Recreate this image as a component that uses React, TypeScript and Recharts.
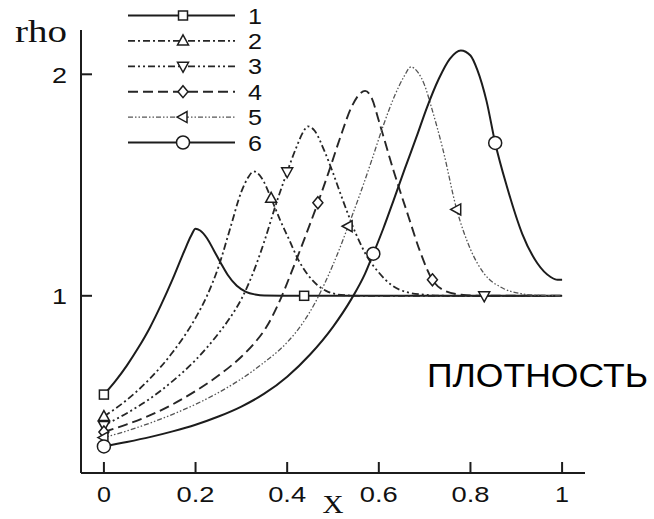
import React from 'react';
import { LineChart, Line, XAxis, YAxis, Legend, Label } from 'recharts';

// ---------- data ----------
const xTicks = [0, 0.2, 0.4, 0.6, 0.8, 1];
const xTickLabels = ['0', '0.2', '0.4', '0.6', '0.8', '1'];
const yTicks = [1, 2];
const yTickLabels = ['1', '2'];
const seriesNames = ['1', '2', '3', '4', '5', '6'];

const curve1: [number, number][] = [
  [0, 0.554], [0.025, 0.615], [0.05, 0.685], [0.075, 0.765], [0.1, 0.855], [0.125, 0.96],
  [0.15, 1.075], [0.175, 1.2], [0.19, 1.27], [0.2, 1.303], [0.21, 1.295], [0.225, 1.26],
  [0.24, 1.205], [0.255, 1.148], [0.27, 1.095], [0.29, 1.045], [0.31, 1.018], [0.33, 1.006],
  [0.35, 1.001], [0.437, 1.0], [0.6, 1.0], [0.8, 1.0], [1, 1.0],
];
const curve1Marks = [0, 0.437];

const curve2: [number, number][] = [
  [0, 0.455], [0.05, 0.53], [0.1, 0.625], [0.15, 0.745], [0.2, 0.9], [0.225, 1.0],
  [0.25, 1.13], [0.275, 1.3], [0.3, 1.47], [0.315, 1.535], [0.327, 1.562], [0.345, 1.53],
  [0.365, 1.44], [0.385, 1.34], [0.405, 1.25], [0.425, 1.16], [0.445, 1.095], [0.465, 1.05],
  [0.485, 1.022], [0.505, 1.008], [0.53, 1.002], [0.56, 1.0], [0.8, 1.0], [1, 1.0],
];
const curve2Marks = [0, 0.365];

const curve3: [number, number][] = [
  [0, 0.415], [0.05, 0.47], [0.1, 0.535], [0.15, 0.615], [0.2, 0.71], [0.25, 0.83],
  [0.275, 0.9], [0.3, 0.985], [0.325, 1.1], [0.35, 1.245], [0.375, 1.41], [0.4, 1.56],
  [0.42, 1.67], [0.435, 1.74], [0.445, 1.765], [0.46, 1.745], [0.48, 1.66], [0.5, 1.555],
  [0.52, 1.44], [0.55, 1.28], [0.575, 1.175], [0.6, 1.105], [0.63, 1.045], [0.66, 1.017],
  [0.7, 1.005], [0.75, 1.0], [0.83, 1.0], [1, 1.0],
];
const curve3Marks = [0, 0.4, 0.83];

const curve4: [number, number][] = [
  [0, 0.385], [0.05, 0.42], [0.1, 0.46], [0.15, 0.51], [0.2, 0.57], [0.25, 0.64],
  [0.3, 0.725], [0.33, 0.79], [0.355, 0.86], [0.38, 0.96], [0.41, 1.11], [0.44, 1.27],
  [0.467, 1.42], [0.49, 1.555], [0.515, 1.71], [0.54, 1.85], [0.56, 1.915], [0.57, 1.925],
  [0.585, 1.89], [0.6, 1.79], [0.632, 1.566], [0.665, 1.356], [0.69, 1.2], [0.717, 1.072],
  [0.745, 1.022], [0.78, 1.005], [0.82, 1.0], [1, 1.0],
];
const curve4Marks = [0, 0.467, 0.717];

const curve5: [number, number][] = [
  [0, 0.36], [0.05, 0.39], [0.1, 0.425], [0.15, 0.465], [0.2, 0.51], [0.25, 0.563],
  [0.3, 0.625], [0.35, 0.7], [0.4, 0.79], [0.435, 0.88], [0.46, 0.965], [0.485, 1.07],
  [0.51, 1.19], [0.533, 1.314], [0.56, 1.465], [0.585, 1.615], [0.61, 1.77], [0.635, 1.905],
  [0.655, 1.99], [0.67, 2.033], [0.685, 2.01], [0.7, 1.95], [0.715, 1.85], [0.74, 1.66],
  [0.77, 1.39], [0.8, 1.21], [0.83, 1.1], [0.87, 1.035], [0.91, 1.01], [0.95, 1.002], [1, 1.0],
];
const curve5Marks = [0, 0.533, 0.77];

const curve6: [number, number][] = [
  [0, 0.32], [0.05, 0.34], [0.1, 0.362], [0.15, 0.388], [0.2, 0.418], [0.25, 0.455],
  [0.3, 0.5], [0.35, 0.558], [0.4, 0.635], [0.45, 0.735], [0.5, 0.86], [0.54, 0.985],
  [0.57, 1.1], [0.588, 1.19], [0.61, 1.305], [0.632, 1.43], [0.657, 1.575], [0.682, 1.716],
  [0.705, 1.85], [0.731, 1.98], [0.755, 2.07], [0.779, 2.108], [0.8, 2.085], [0.815, 2.02],
  [0.835, 1.88], [0.854, 1.69], [0.88, 1.49], [0.913, 1.28], [0.946, 1.147], [0.975, 1.085],
  [0.99, 1.072], [1, 1.072],
];
const curve6Marks = [0, 0.588, 0.854];

// ---------- styling ----------
const INK = '#1c1c1c';
const SANS = '"Liberation Sans", Arial, sans-serif';
const SERIF = '"Liberation Serif", "Times New Roman", serif';

type Kind = 'square' | 'triUp' | 'triDown' | 'diamond' | 'triLeft' | 'circle';

const styles: { kind: Kind; dash?: string; width: number; color: string }[] = [
  { kind: 'square', width: 2, color: INK },
  { kind: 'triUp', dash: '7 3 2 3', width: 1.8, color: '#262626' },
  { kind: 'triDown', dash: '7 3 2 3 2 3', width: 1.8, color: '#262626' },
  { kind: 'diamond', dash: '10 5', width: 1.9, color: '#262626' },
  { kind: 'triLeft', dash: '5 2 1.5 2 1.5 2', width: 1.3, color: '#555' },
  { kind: 'circle', width: 2, color: INK },
];

const curves = [curve1, curve2, curve3, curve4, curve5, curve6];
const marks = [curve1Marks, curve2Marks, curve3Marks, curve4Marks, curve5Marks, curve6Marks];

const seriesData = curves.map((c, i) =>
  c.map(([x, rho]) => ({ x, rho, mark: marks[i].includes(x) }))
);

function Marker({ kind, cx, cy }: { kind: Kind; cx: number; cy: number }) {
  const common = { fill: '#fff', stroke: INK, strokeWidth: 1.5 };
  switch (kind) {
    case 'square':
      return <rect x={cx - 4.5} y={cy - 4.5} width={9} height={9} {...common} />;
    case 'triUp':
      return <polygon points={`${cx},${cy - 6} ${cx + 5.5},${cy + 4} ${cx - 5.5},${cy + 4}`} {...common} />;
    case 'triDown':
      return <polygon points={`${cx},${cy + 6} ${cx + 5.5},${cy - 4} ${cx - 5.5},${cy - 4}`} {...common} />;
    case 'diamond':
      return <polygon points={`${cx},${cy - 6} ${cx + 5},${cy} ${cx},${cy + 6} ${cx - 5},${cy}`} {...common} />;
    case 'triLeft':
      return <polygon points={`${cx - 6},${cy} ${cx + 4},${cy - 5.5} ${cx + 4},${cy + 5.5}`} {...common} />;
    case 'circle':
    default:
      return <circle cx={cx} cy={cy} r={6.5} {...common} />;
  }
}

const XTick = (props: any) => {
  const { x, y, payload, index } = props;
  const i = xTicks.indexOf(payload.value);
  const label = i >= 0 ? xTickLabels[i] : String(payload.value);
  const len = label.length > 1 ? 38 : 14;
  return (
    <g key={`xt-${index}`}>
      <line x1={x} y1={y} x2={x} y2={y - 11} stroke={INK} strokeWidth={2} />
      <text x={x} y={y + 29} textAnchor="middle" fontFamily={SANS} fontSize={22} fill="#111"
        textLength={len} lengthAdjust="spacingAndGlyphs">{label}</text>
    </g>
  );
};

const YTick = (props: any) => {
  const { x, y, payload, index } = props;
  const i = yTicks.indexOf(payload.value);
  const label = i >= 0 ? yTickLabels[i] : String(payload.value);
  return (
    <g key={`yt-${index}`}>
      <line x1={x} y1={y} x2={x + 11} y2={y} stroke={INK} strokeWidth={2} />
      <text x={x - 14} y={y + 8.5} textAnchor="end" fontFamily={SANS} fontSize={22} fill="#111"
        textLength={15} lengthAdjust="spacingAndGlyphs">{label}</text>
    </g>
  );
};

const LegendContent = () => (
  <svg width={300} height={160} style={{ display: 'block' }}>
    {seriesNames.map((name, i) => {
      const y = 15.5 + i * 25.4;
      const s = styles[i];
      return (
        <g key={name}>
          <line x1={128} y1={y} x2={235} y2={y} stroke={s.color} strokeWidth={s.width}
            strokeDasharray={s.dash} />
          <Marker kind={s.kind} cx={183} cy={y} />
          <text x={248} y={y + 8} fontFamily={SANS} fontSize={22} fill="#111"
            textLength={14} lengthAdjust="spacingAndGlyphs">{name}</text>
        </g>
      );
    })}
  </svg>
);

export default function App() {
  return (
    <div style={{ position: 'absolute', left: 0, top: 0, width: 654, height: 519, background: '#fff' }}>
      <LineChart width={654} height={519} margin={{ top: 30, right: 69, bottom: 6, left: 21 }}>
        <XAxis
          dataKey="x"
          type="number"
          domain={[-0.05, 1.05]}
          ticks={xTicks}
          interval={0}
          allowDataOverflow
          height={40}
          tickSize={0}
          tickMargin={0}
          tickLine={false}
          tick={<XTick />}
          axisLine={{ stroke: INK, strokeWidth: 2 }}
        >
          <Label
            content={() => (
              <text x={333} y={513} textAnchor="middle" fontFamily={SERIF} fontSize={25} fill="#111"
                textLength={21} lengthAdjust="spacingAndGlyphs">X</text>
            )}
          />
        </XAxis>
        <YAxis
          dataKey="rho"
          type="number"
          domain={[0.2, 2.2]}
          ticks={yTicks}
          interval={0}
          allowDataOverflow
          width={60}
          tickSize={0}
          tickMargin={0}
          tickLine={false}
          tick={<YTick />}
          axisLine={{ stroke: INK, strokeWidth: 2 }}
        >
          <Label
            content={() => (
              <text x={15} y={42} fontFamily={SERIF} fontSize={31} fill="#111"
                textLength={52} lengthAdjust="spacingAndGlyphs">rho</text>
            )}
          />
        </YAxis>
        <Legend
          layout="horizontal"
          verticalAlign="middle"
          align="center"
          wrapperStyle={{ top: 0, left: 0, width: 300, height: 160 }}
          content={() => <LegendContent />}
        />
        {seriesData.map((d, i) => {
          const s = styles[i];
          return (
            <Line
              key={seriesNames[i]}
              name={seriesNames[i]}
              data={d}
              dataKey="rho"
              type="monotone"
              stroke={s.color}
              strokeWidth={s.width}
              strokeDasharray={s.dash}
              isAnimationActive={false}
              activeDot={false}
              dot={(p: any) =>
                p.payload && p.payload.mark ? (
                  <g key={`m-${i}-${p.index}`}>
                    <Marker kind={s.kind} cx={p.cx} cy={p.cy} />
                  </g>
                ) : (
                  <g key={`m-${i}-${p.index}`} />
                )
              }
            />
          );
        })}
      </LineChart>
      <svg width={654} height={519} style={{ position: 'absolute', left: 0, top: 0, pointerEvents: 'none' }}>
        <text x={427} y={387} fontFamily={SANS} fontSize={34} fill="#000"
          textLength={221} lengthAdjust="spacingAndGlyphs">ПЛОТНОСТЬ</text>
      </svg>
    </div>
  );
}
